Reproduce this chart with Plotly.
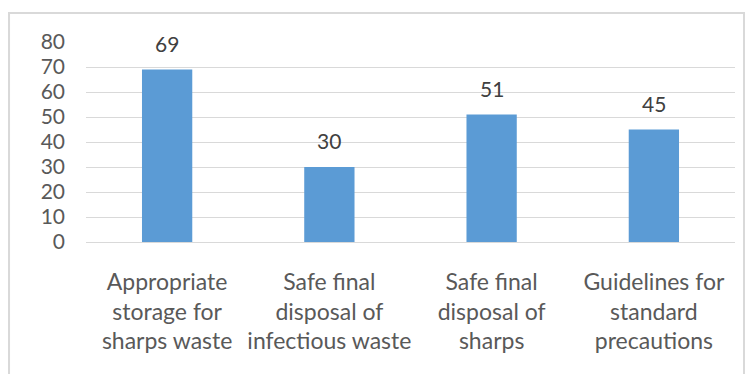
import plotly.graph_objects as go

# Chart data
categories = [
    "Appropriate<br>storage for<br>sharps waste",
    "Safe final<br>disposal of<br>infectious waste",
    "Safe final<br>disposal of<br>sharps",
    "Guidelines for<br>standard<br>precautions",
]
values = [69, 30, 51, 45]
y_ticks = [0, 10, 20, 30, 40, 50, 60, 70, 80]

BAR_COLOR = "#5B9BD5"
TEXT_COLOR = "#595959"
GRID_COLOR = "#D9D9D9"
FONT = "Lato"

fig = go.Figure(
    go.Bar(
        x=categories,
        y=values,
        marker=dict(color=BAR_COLOR, line=dict(width=0)),
        width=0.31,
        hoverinfo="skip",
    )
)

# value labels above each bar
for cat, val in zip(categories, values):
    fig.add_annotation(
        x=cat, y=val, text=str(val), showarrow=False,
        yanchor="bottom", yshift=12,
        font=dict(family=FONT, size=21, color="#404040"),
    )

# outer chart frame
fig.add_shape(
    type="rect", xref="paper", yref="paper",
    x0=-0.1186, x1=1.0139, y0=-0.7, y1=1.145,
    line=dict(color=GRID_COLOR, width=2), fillcolor="rgba(0,0,0,0)",
    layer="below",
)

fig.update_layout(
    width=752, height=374,
    margin=dict(l=86, r=17, t=42, b=132),
    paper_bgcolor="white", plot_bgcolor="white",
    showlegend=False,
    font=dict(family=FONT, size=20, color=TEXT_COLOR),
    xaxis=dict(
        showgrid=False, zeroline=False,
        showline=True, linecolor=GRID_COLOR, linewidth=1,
        ticks="", ticklabelstandoff=19,
        tickfont=dict(family=FONT, size=23, color=TEXT_COLOR),
    ),
    yaxis=dict(
        range=[0, 80], tickvals=y_ticks,
        showgrid=True, gridcolor=GRID_COLOR, gridwidth=1,
        zeroline=False, showline=False, ticks="",
        ticklabelstandoff=20,
        tickfont=dict(family=FONT, size=21, color=TEXT_COLOR),
    ),
)

fig.write_html("out.html")
